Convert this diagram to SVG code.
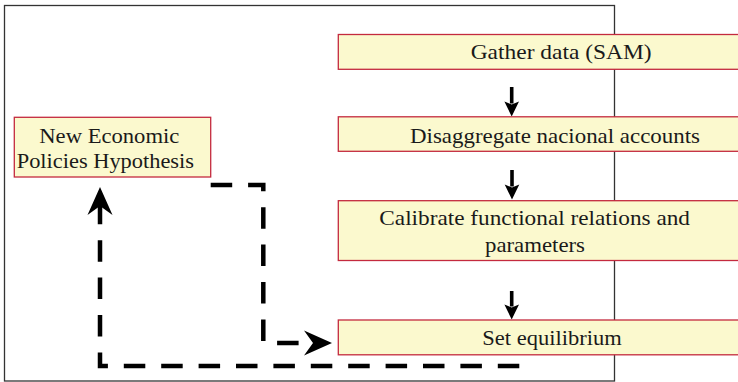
<svg xmlns="http://www.w3.org/2000/svg" width="738" height="382" viewBox="0 0 738 382">
<style>
.box{fill:#FBF9CE;stroke:#C42A3E;stroke-width:1.3}
text{font-family:'Liberation Serif','Times New Roman',Times,serif;font-size:21px;fill:#1a1a1a}
.dash{fill:none;stroke:#000;stroke-width:4.5;stroke-dasharray:21.5 15.9}
.solid{fill:none;stroke:#000;stroke-width:3.6}
</style>
<defs>
<marker id="big" markerUnits="userSpaceOnUse" markerWidth="40" markerHeight="40" refX="0" refY="0" orient="auto" overflow="visible" viewBox="-20 -20 40 40">
<path d="M19,0 L-9,-12.5 L0,0 L-9,12.5 Z" fill="#000"/>
</marker>
<marker id="small" markerUnits="userSpaceOnUse" markerWidth="30" markerHeight="30" refX="0" refY="0" orient="auto" overflow="visible" viewBox="-15 -15 30 30">
<path d="M13,0 L-2,-7.3 L1,0 L-2,7.3 Z" fill="#000"/>
</marker>
</defs>
<rect x="4.5" y="5.5" width="610" height="375.5" fill="#fff" stroke="#333" stroke-width="1.3"/>
<g id="connectors">
<path class="solid" d="M511.7,87 V103.5" marker-end="url(#small)"/>
<path class="solid" d="M512,170 V186.5" marker-end="url(#small)"/>
<path class="solid" d="M511.7,291 V306.5" marker-end="url(#small)"/>
<path class="dash" d="M210.7,185 H263.3 V343 H313" marker-end="url(#big)"/>
<path class="dash" d="M519.3,366 H100 V206" marker-end="url(#big)"/>
</g>
<g id="gather">
<rect class="box" x="338.3" y="34.5" width="410" height="34.8"/>
<text x="470.7" y="58.8" textLength="181" lengthAdjust="spacingAndGlyphs">Gather data (SAM)</text>
</g>
<g id="disaggregate">
<rect class="box" x="338.3" y="116.8" width="410" height="34.5"/>
<text x="410" y="142.5" textLength="290" lengthAdjust="spacingAndGlyphs">Disaggregate nacional accounts</text>
</g>
<g id="calibrate">
<rect class="box" x="338.3" y="200.7" width="410" height="59.8"/>
<text x="379.3" y="225.3" textLength="310.7" lengthAdjust="spacingAndGlyphs">Calibrate functional relations and</text>
<text x="485" y="251.9" textLength="100" lengthAdjust="spacingAndGlyphs">parameters</text>
</g>
<g id="equilibrium">
<rect class="box" x="338.3" y="320" width="410" height="34.8"/>
<text x="482.3" y="345.3" textLength="139.4" lengthAdjust="spacingAndGlyphs">Set equilibrium</text>
</g>
<g id="hypothesis">
<rect class="box" x="14.3" y="117.3" width="196.4" height="59.7"/>
<text x="39.3" y="143" textLength="140" lengthAdjust="spacingAndGlyphs">New Economic</text>
<text x="16.7" y="168" textLength="177.3" lengthAdjust="spacingAndGlyphs">Policies Hypothesis</text>
</g>
</svg>
